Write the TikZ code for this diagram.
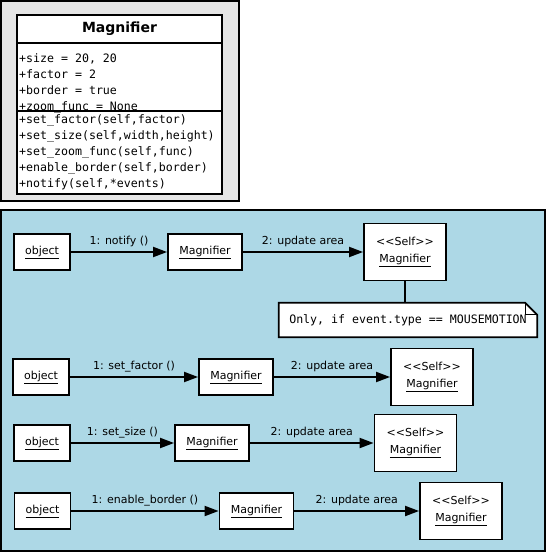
\documentclass[tikz,border=0pt]{standalone}
\usepackage{fontspec}
\setmainfont{DejaVu Sans}
\setmonofont{DejaVu Sans Mono}
\usetikzlibrary{arrows.meta}
\definecolor{framegray}{HTML}{E5E5E5}
\definecolor{frameblue}{HTML}{ADD8E6}
\newcommand{\selftag}{<\kern0pt<Self>\kern0pt>}
\begin{document}
\begin{tikzpicture}[x=1pt, y=-1pt,
		objbox/.style={draw, line width=1.8pt, fill=white, inner sep=0pt, align=center,
			font=\fontsize{11}{17}\selectfont},
		objname/.style={objbox, minimum width=56pt, minimum height=36pt},
		magname/.style={objbox, minimum width=74pt, minimum height=36pt},
		selfname/.style={objbox, minimum width=82pt, minimum height=57pt},
		msgarrow/.style={-{Triangle[length=14pt,width=10pt]}, line width=1.9pt},
		msglabel/.style={above, inner sep=4pt, font=\fontsize{11}{13}\selectfont},
		codetext/.style={anchor=north west, align=left, inner sep=0pt,
			font=\ttfamily\fontsize{11.6}{16}\selectfont}]
		\useasboundingbox (0,0) rectangle (549,555);
		% class diagram
		\draw[line width=2pt, fill=framegray] (1,1) rectangle (239,201);
		\node[draw, line width=1.8pt, fill=white, minimum width=205pt, minimum height=179pt] (cls) at (119.5,104.5) {};
		\node[font=\bfseries\fontsize{14}{16}\selectfont] (clsname) at (119.5,29) {Magnifier};
		\coordinate (sepname) at (0,43);
		\coordinate (sepattr) at (0,111);
		\draw[line width=1.8pt] (cls.west |- sepname) -- (cls.east |- sepname);
		\draw[line width=1.8pt] (cls.west |- sepattr) -- (cls.east |- sepattr);
		\node[codetext] (attrs) at (19,53) {+size = 20, 20\\+factor = 2\\+border = true\\+zoom\_func = None};
		\node[codetext] (meths) at (19,114.2) {+set\_factor(self,factor)\\+set\_size(self,width,height)\\+set\_zoom\_func(self,func)\\+enable\_border(self,border)\\+notify(self,*events)};
		% collaboration diagrams
		\draw[line width=2pt, fill=frameblue] (1,210) rectangle (545,551);
		\node[objname] (obj1) at (42,252) {\underline{object}};
		\node[magname] (mag1) at (205,252) {\underline{Magnifier}};
		\node[selfname] (self1) at (405,252) {\selftag\\\underline{Magnifier}};
		\draw[msgarrow] (obj1) -- node[msglabel] {1: notify ()} (mag1);
		\draw[msgarrow] (mag1) -- node[msglabel] {2: update area} (self1);
		\node[minimum width=258pt, minimum height=34pt, inner sep=0pt] (note) at (408,320) {};
		\draw[line width=1.8pt] (self1.south) -- (self1.south |- note.north);
		\draw[line width=1.8pt, fill=white] (note.north west) -- ([xshift=-12pt]note.north east)
			-- ([yshift=-12pt]note.north east) -- (note.south east) -- (note.south west) -- cycle;
		\draw[line width=1pt] ([xshift=-12pt]note.north east) |- ([yshift=-12pt]note.north east);
		\node[font=\ttfamily\fontsize{11.6}{14}\selectfont] (notetext) at (note) {Only, if event.type == MOUSEMOTION};

		\node[objname] (obj2) at (41,377) {\underline{object}};
		\node[magname] (mag2) at (236,377) {\underline{Magnifier}};
		\node[selfname] (self2) at (432,377) {\selftag\\\underline{Magnifier}};
		\draw[msgarrow] (obj2) -- node[msglabel] {1: set\_factor ()} (mag2);
		\draw[msgarrow] (mag2) -- node[msglabel] {2: update area} (self2);

		\node[objname] (obj3) at (42,443) {\underline{object}};
		\node[magname] (mag3) at (212,443) {\underline{Magnifier}};
		\node[selfname] (self3) at (415.5,443) {\selftag\\\underline{Magnifier}};
		\draw[msgarrow] (obj3) -- node[msglabel] {1: set\_size ()} (mag3);
		\draw[msgarrow] (mag3) -- node[msglabel] {2: update area} (self3);

		\node[objname] (obj4) at (42.5,511) {\underline{object}};
		\node[magname] (mag4) at (256.5,511) {\underline{Magnifier}};
		\node[selfname] (self4) at (461,511) {\selftag\\\underline{Magnifier}};
		\draw[msgarrow] (obj4) -- node[msglabel] {1: enable\_border ()} (mag4);
		\draw[msgarrow] (mag4) -- node[msglabel] {2: update area} (self4);
	\end{tikzpicture}
\end{document}
